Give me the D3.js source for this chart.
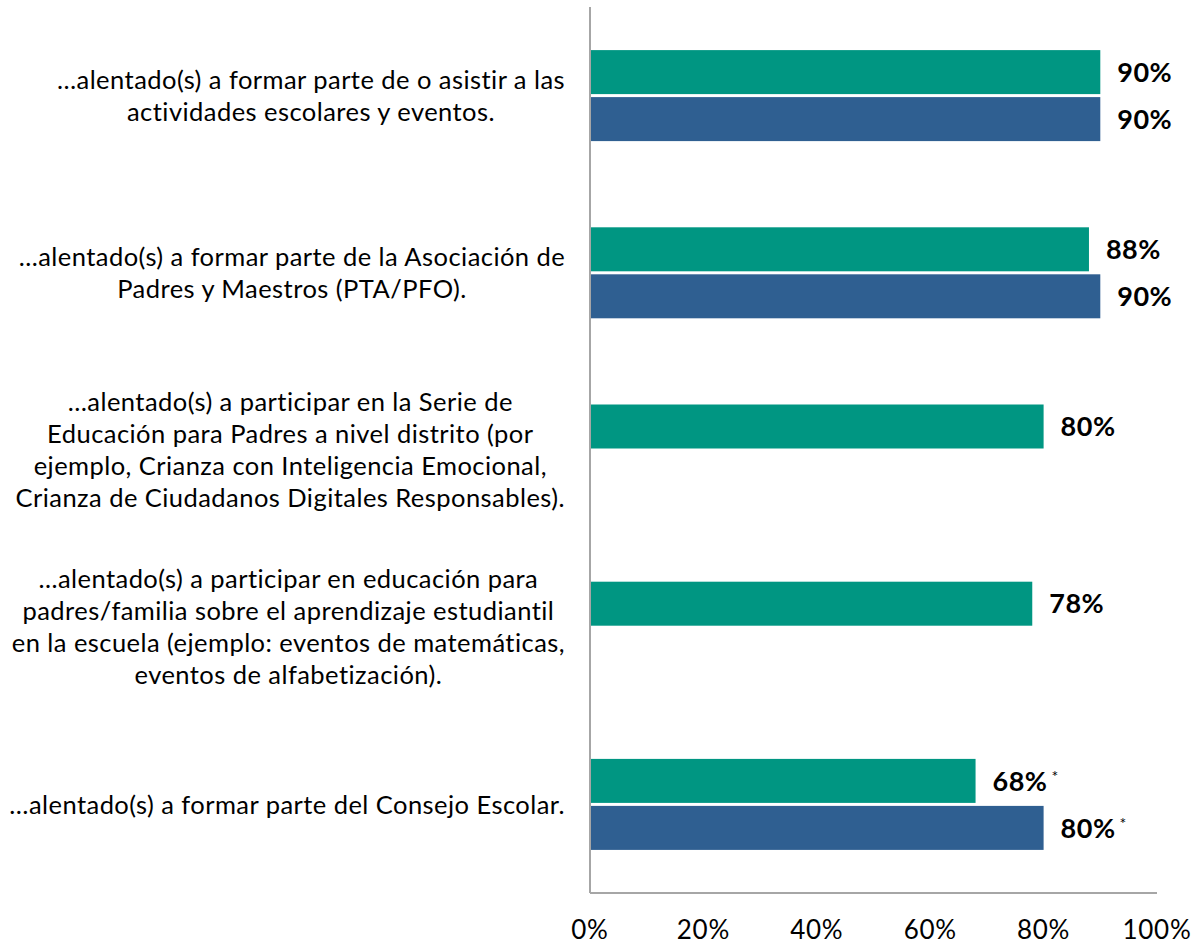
<!DOCTYPE html>
<html>
<head>
<meta charset="utf-8">
<script src="https://cdn.jsdelivr.net/npm/d3@7"></script>
<style>
    body { margin: 0; background: #fff; }
    svg { display: block; font-family: Lato, "Open Sans", sans-serif; }
</style>
</head>
<body>
<div id="chart"></div>
<script>
// categories (each entry = lines of the wrapped label)
const categories = [
    ["…alentado(s) a formar parte de o asistir a las", "actividades escolares y eventos."],
    ["...alentado(s) a formar parte de la Asociación de", "Padres y Maestros (PTA/PFO)."],
    ["…alentado(s) a participar en la Serie de", "Educación para Padres a nivel distrito (por", "ejemplo, Crianza con Inteligencia Emocional,", "Crianza de Ciudadanos Digitales Responsables)."],
    ["...alentado(s) a participar en educación para", "padres/familia sobre el aprendizaje estudiantil", "en la escuela (ejemplo: eventos de matemáticas,", "eventos de alfabetización)."],
    ["…alentado(s) a formar parte del Consejo Escolar."]
]
const seriesNames = ["A", "B"]
const seriesA = [90, 88, 80, 78, 68]
const seriesB = [90, 90, null, null, 80]
const flagged = [false, false, false, false, true]
const xTicks = [0, 20, 40, 60, 80, 100]

const colors = {A: "#009682", B: "#2f5f91"}

let width = 1202, height = 947
let margin = {top: 7, right: 45, bottom: 54, left: 590}
let innerW = width - margin.left - margin.right
let innerH = height - margin.top - margin.bottom

let svg = d3.select("#chart").append("svg")
    .attr("width", width)
    .attr("height", height)

let g = svg.append("g")
    .attr("transform", "translate(" + margin.left + "," + margin.top + ")")

let x = d3.scaleLinear().domain([0, 100]).range([0, innerW])

let y = d3.scaleBand()
    .domain(d3.range(categories.length))
    .range([0, innerH])
    .padding(0)

let sub = d3.scaleBand()
    .domain(seriesNames)
    .range([y.bandwidth() / 2 - 45.5, y.bandwidth() / 2 + 45.5])
    .paddingInner(3 / 47)

// rows
let rows = []
categories.forEach(function(c, i) {
    rows.push({i: i, s: "A", v: seriesA[i]})
    if (seriesB[i] != null) rows.push({i: i, s: "B", v: seriesB[i]})
})

g.selectAll("rect.bar")
    .data(rows)
    .enter()
    .append("rect")
    .attr("class", "bar")
    .attr("x", 0)
    .attr("y", d => y(d.i) + sub(d.s))
    .attr("width", d => x(d.v))
    .attr("height", sub.bandwidth())
    .attr("fill", d => colors[d.s])

// value labels
let vl = g.selectAll("text.val")
    .data(rows)
    .enter()
    .append("text")
    .attr("class", "val")
    .attr("x", d => x(d.v) + 17)
    .attr("y", d => y(d.i) + sub(d.s) + sub.bandwidth() / 2)
    .attr("dy", "0.36em")
    .style("font-size", "27px")
    .style("font-weight", "bold")
    .style("letter-spacing", "0.5px")
    .style("fill", "#000")
    .text(d => d.v + "%")

vl.filter(d => flagged[d.i])
    .append("tspan")
    .attr("dx", 4)
    .attr("dy", "-0.55em")
    .style("font-size", "16px")
    .style("font-weight", "normal")
    .text("*")

// axes lines
g.append("line")
    .attr("x1", 0).attr("x2", 0)
    .attr("y1", 0).attr("y2", innerH)
    .attr("stroke", "#a6a6a6")
    .attr("stroke-width", 2)

g.append("line")
    .attr("x1", 0).attr("x2", x(100))
    .attr("y1", innerH).attr("y2", innerH)
    .attr("stroke", "#a6a6a6")
    .attr("stroke-width", 2)

// tick labels
g.selectAll("text.tick")
    .data(xTicks)
    .enter()
    .append("text")
    .attr("class", "tick")
    .attr("x", d => x(d))
    .attr("y", innerH + 37)
    .attr("dy", "0.36em")
    .attr("text-anchor", "middle")
    .style("font-size", "26px")
    .style("letter-spacing", "0.7px")
    .style("fill", "#000")
    .text(d => d + "%")

// category labels: block right-aligned at 565, lines centred in block
let lineH = 32
categories.forEach(function(lines, i) {
    let t = svg.append("text")
        .style("font-size", "25.5px")
        .style("letter-spacing", "0.45px")
        .style("fill", "#000")
        .attr("text-anchor", "middle")
    let spans = t.selectAll("tspan")
        .data(lines)
        .enter()
        .append("tspan")
        .text(d => d)
    let maxW = 0
    spans.each(function() { maxW = Math.max(maxW, this.getComputedTextLength()) })
    let cx = 565 - maxW / 2
    let cy = margin.top + y(i) + y.bandwidth() / 2
    spans.attr("x", cx)
        .attr("y", (d, k) => cy + (k - (lines.length - 1) / 2) * lineH)
        .attr("dy", "0.36em")
})
</script>
</body>
</html>
